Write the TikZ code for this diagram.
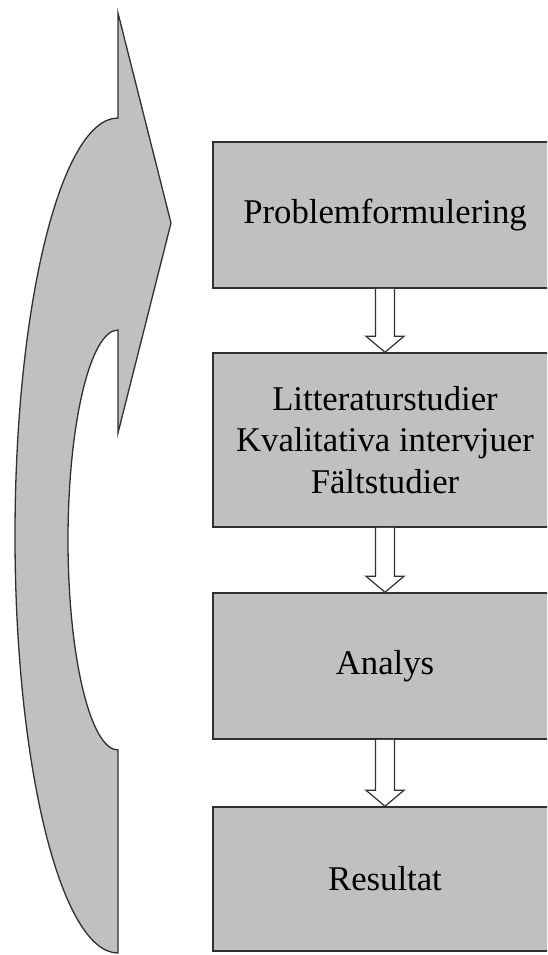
\documentclass[tikz,border=0pt]{standalone}
\usepackage{fontspec}
\setmainfont{Liberation Serif}
\usetikzlibrary{calc}

\definecolor{boxgray}{HTML}{C0C0C0}
\definecolor{edgegray}{HTML}{303030}

\newcommand{\hollowarrow}[2]{%
    \draw[arrowline] let \p1=(#1.south), \p2=(#2.north) in
        (\x1-9.5pt,\y1) -- (\x1-9.5pt,\y2+16pt) -- (\x1-19pt,\y2+16pt) -- (\x2,\y2)
        -- (\x1+19pt,\y2+16pt) -- (\x1+9.5pt,\y2+16pt) -- (\x1+9.5pt,\y1);
}

\begin{document}
\begin{tikzpicture}[x=1pt,y=1pt,
    stepbox/.style={draw=edgegray, line width=1.5pt, fill=boxgray, minimum width=344pt,
        align=center, inner sep=0pt, font=\fontsize{34.7}{41.5}\selectfont},
    arrowline/.style={draw=edgegray, line width=1.2pt, fill=white, line join=miter},
    curvearrow/.style={draw=edgegray, line width=1.3pt, fill=boxgray, line join=miter}]
    \clip (0,0) rectangle (547,-955); % picture frame
    % curved arrow on the left
    \draw[curvearrow] (118,-953) -- (118,-750)
        arc[start angle=270, end angle=90, x radius=50, y radius=210] % inner edge
        -- (118,-433) -- (171,-223) -- (118,-13) -- (118,-118) % head
        arc[start angle=90, end angle=270, x radius=103, y radius=417.5] % outer edge
        -- cycle;
    % the steps
    \node[stepbox, minimum height=146pt] (problem) at (385,-215) {Problemformulering};
    \node[stepbox, minimum height=174pt] (studier) at (385,-440) {Litteraturstudier\\Kvalitativa intervjuer\\Fältstudier};
    \node[stepbox, minimum height=146pt] (analys) at (385,-666) {Analys};
    \node[stepbox, minimum height=144pt] (resultat) at (385,-879) {Resultat};
    % arrows between steps
    \hollowarrow{problem}{studier}
    \hollowarrow{studier}{analys}
    \hollowarrow{analys}{resultat}
\end{tikzpicture}
\end{document}
